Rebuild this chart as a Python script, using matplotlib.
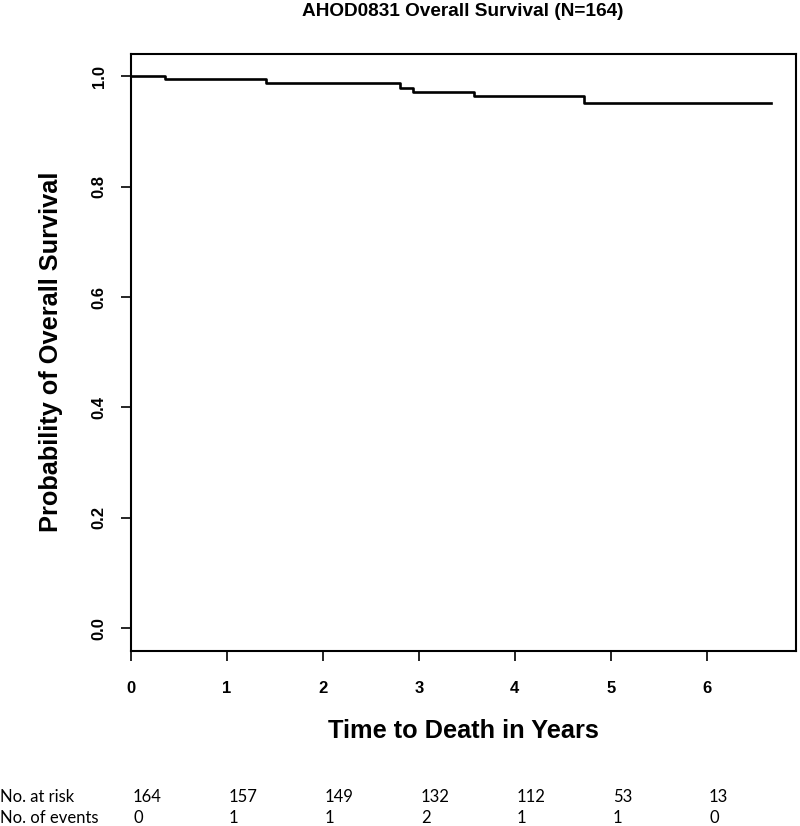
import matplotlib
matplotlib.use("Agg")
import matplotlib.pyplot as plt

# Data
times = [0, 0.35, 1.41, 2.80, 2.94, 3.57, 4.72, 6.67]
surv = [1.0, 0.994, 0.9875, 0.979, 0.972, 0.964, 0.952, 0.952]
risk_times = [0, 1, 2, 3, 4, 5, 6]
n_at_risk = [164, 157, 149, 132, 112, 53, 13]
n_events = [0, 1, 1, 2, 1, 1, 0]
title = "AHOD0831 Overall Survival (N=164)"
xlabel = "Time to Death in Years"
ylabel = "Probability of Overall Survival"
xticks = [0, 1, 2, 3, 4, 5, 6]
yticks = [0.0, 0.2, 0.4, 0.6, 0.8, 1.0]

W, H = 800, 826
fig = plt.figure(figsize=(W / 100, H / 100), dpi=100)
ax = fig.add_axes([131 / W, 1 - 650.5 / H, (796 - 131) / W, (650.5 - 54) / H])

ax.step(times, surv, where="post", color="black", lw=1.9)
ax.set_xlim(0, 6.93)
ax.set_ylim(-0.04, 1.04)

for s in ax.spines.values():
    s.set_linewidth(1.5)
ax.set_xticks(xticks)
ax.set_yticks(yticks)
ax.set_xticklabels([str(v) for v in xticks], fontsize=12, fontweight="bold",
                   family="Liberation Sans")
ax.set_yticklabels([f"{v:.1f}" for v in yticks], fontsize=12, fontweight="bold",
                   family="Liberation Sans", rotation=90, va="center")
ax.tick_params(axis="both", direction="out", length=7.5, width=1.2)
ax.tick_params(axis="x", pad=14.5)
ax.tick_params(axis="y", pad=10)

fig.text(463 / W, 1 - 12 / H, title, ha="center", va="center", fontsize=13.7,
         fontweight="bold", family="Liberation Sans")
fig.text(463 / W, 1 - 731 / H, xlabel, ha="center", va="center", fontsize=18.3,
         fontweight="bold", family="Liberation Sans")
fig.text(51 / W, 1 - 352 / H, ylabel, ha="center", va="center", fontsize=18.3,
         fontweight="bold", family="Liberation Sans", rotation=90)

# risk table
tf = dict(fontsize=12, family="Lato", va="center")
fig.text(0, 1 - 797 / H, "No. at risk", ha="left", **tf)
fig.text(0, 1 - 818 / H, "No. of events", ha="left", **tf)
for t, r, e in zip(risk_times, n_at_risk, n_events):
    xf = (131 + 96 * t + 2) / W
    fig.text(xf, 1 - 797 / H, str(r), ha="left", **tf)
    fig.text(xf, 1 - 818 / H, str(e), ha="left", **tf)

fig.savefig("out.png", dpi=100)
